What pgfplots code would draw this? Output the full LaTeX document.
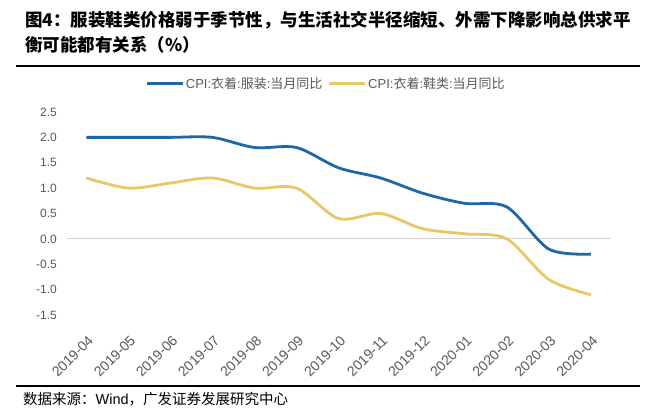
\documentclass[border=0pt]{standalone}
\usepackage{fontspec}
\usepackage{pgfplots}
\pgfplotsset{compat=1.18}
\setmainfont{Liberation Sans}
\newfontfamily\cjk{Noto Sans CJK SC}
\definecolor{cblue}{RGB}{30,105,165}
\definecolor{cyel}{RGB}{232,200,100}
\definecolor{tgray}{RGB}{89,89,89}

\begin{document}
\begin{tikzpicture}
\useasboundingbox (0,0) rectangle (657bp,414bp);
\fill[white] (0,0) rectangle (657bp,414bp);
% title, two lines
\node[anchor=west, inner sep=0pt, font=\fontsize{17.5bp}{20bp}\selectfont\cjk\bfseries]
  at (25bp,394bp) {图4：服装鞋类价格弱于季节性，与生活社交半径缩短、外需下降影响总供求平};
\node[anchor=west, inner sep=0pt, font=\fontsize{17.5bp}{20bp}\selectfont\cjk\bfseries]
  at (25bp,369bp) {衡可能都有关系（\%）};
\draw[line width=1.4bp] (16bp,348bp) -- (640bp,348bp);
\draw[line width=1.4bp] (16bp,28bp) -- (640bp,28bp);
\node[anchor=west, inner sep=0pt, font=\fontsize{14.5bp}{16bp}\selectfont\cjk]
  at (23bp,15bp) {数据来源：{\rmfamily Wind}，广发证券发展研究中心};

\begin{axis}[
    at={(67bp,99bp)}, anchor=south west,
    scale only axis,
    width=544bp, height=203bp,
    xmin=-0.46, xmax=12.48,
    ymin=-1.5, ymax=2.5,
    axis line style={draw=none},
    major tick length=0pt,
    xtick={0,1,...,12},
    xticklabels={2019-04,2019-05,2019-06,2019-07,2019-08,2019-09,2019-10,2019-11,2019-12,2020-01,2020-02,2020-03,2020-04},
    xticklabel style={rotate=45, anchor=east, inner sep=0pt, xshift=-13bp, yshift=-19.5bp,
        font=\fontsize{14bp}{16bp}\selectfont, text=tgray},
    ytick={-1.5,-1,-0.5,0,0.5,1,1.5,2,2.5},
    yticklabels={-1.5,-1.0,-0.5,0.0,0.5,1.0,1.5,2.0,2.5},
    yticklabel style={anchor=east, inner sep=0pt, xshift=-10bp,
        font=\fontsize{12bp}{14bp}\selectfont, text=tgray},
    extra y ticks={0},
    extra y tick labels={},
    extra y tick style={grid=major, grid style={draw=black!18, line width=0.9bp}},
    legend columns=2,
    legend style={at={(0.476,1.14)}, anchor=center, draw=none, fill=none,
        font=\fontsize{13bp}{15bp}\selectfont, text=tgray,
        /tikz/every even column/.append style={column sep=4bp},
        nodes={inner sep=1.5bp}},
    legend image code/.code={\draw[#1, line width=2.8bp] (0bp,0bp) -- (36bp,0bp);},
]
\addplot[cblue, line width=2.8bp, smooth, no markers] coordinates {
    (0,2.0)(1,2.0)(2,2.0)(3,2.0)(4,1.8)(5,1.8)(6,1.4)(7,1.2)(8,0.9)(9,0.7)(10,0.63)(11,-0.2)(12,-0.3)
};
\addlegendentry{CPI:{\cjk 衣着}:{\cjk 服装}:{\cjk 当月同比}}
\addplot[cyel, line width=2.8bp, smooth, no markers] coordinates {
    (0,1.2)(1,1.0)(2,1.1)(3,1.2)(4,1.0)(5,1.0)(6,0.4)(7,0.5)(8,0.2)(9,0.1)(10,0.0)(11,-0.8)(12,-1.1)
};
\addlegendentry{CPI:{\cjk 衣着}:{\cjk 鞋类}:{\cjk 当月同比}}
\end{axis}
\end{tikzpicture}
\end{document}
